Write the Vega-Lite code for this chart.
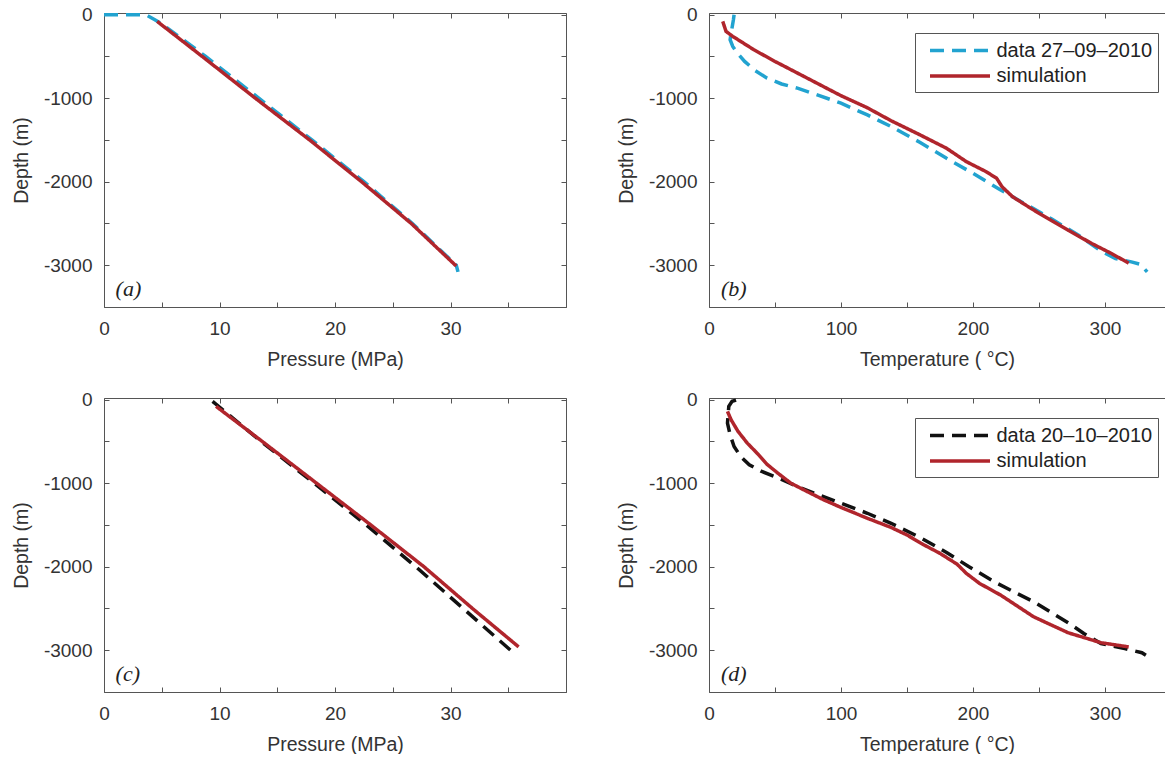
{
  "$schema": "https://vega.github.io/schema/vega-lite/v6.json",
  "background": "white",
  "padding": {"left": 11, "top": 5, "right": 0, "bottom": 0},
  "config": {
    "font": "Liberation Sans",
    "view": {"stroke": null},
    "axis": {
      "grid": false,
      "domainColor": "#555555",
      "tickColor": "#555555",
      "labelColor": "#333333",
      "titleColor": "#333333",
      "labelFontSize": 19,
      "titleFontSize": 19.5,
      "titleFontWeight": "normal",
      "tickSize": -5,
      "labelPadding": 17,
      "titlePadding": 12,
      "labelFlush": false,
      "domainWidth": 1,
      "tickWidth": 1
    },
    "legend": {
      "title": null,
      "strokeColor": "#555555",
      "fillColor": "white",
      "padding": 5.5,
      "symbolType": "M-3,0H3",
      "symbolSize": 400,
      "symbolStrokeWidth": 3.5,
      "symbolOffset": 27.5,
      "labelOffset": 24.5,
      "labelFontSize": 20,
      "labelColor": "#222222",
      "rowPadding": 3.5,
      "cornerRadius": 0
    }
  },
  "datasets": {
    "a": [
      {"series": "data 27–09–2010", "x": 0, "y": 0},
      {"series": "data 27–09–2010", "x": 3.6, "y": 0},
      {"series": "data 27–09–2010", "x": 4.4, "y": -60},
      {"series": "data 27–09–2010", "x": 5.0, "y": -110},
      {"series": "data 27–09–2010", "x": 8.8, "y": -500},
      {"series": "data 27–09–2010", "x": 13.4, "y": -1000},
      {"series": "data 27–09–2010", "x": 18.0, "y": -1500},
      {"series": "data 27–09–2010", "x": 22.5, "y": -2000},
      {"series": "data 27–09–2010", "x": 26.7, "y": -2500},
      {"series": "data 27–09–2010", "x": 30.5, "y": -3000},
      {"series": "data 27–09–2010", "x": 30.65, "y": -3080},
      {"series": "simulation", "x": 4.6, "y": -80},
      {"series": "simulation", "x": 8.5, "y": -500},
      {"series": "simulation", "x": 13.1, "y": -1000},
      {"series": "simulation", "x": 17.8, "y": -1500},
      {"series": "simulation", "x": 22.3, "y": -2000},
      {"series": "simulation", "x": 26.6, "y": -2500},
      {"series": "simulation", "x": 30.5, "y": -3010}
    ],
    "b": [
      {"series": "data 27–09–2010", "x": 19, "y": 0},
      {"series": "data 27–09–2010", "x": 18.5, "y": -60},
      {"series": "data 27–09–2010", "x": 17, "y": -200},
      {"series": "data 27–09–2010", "x": 16, "y": -300},
      {"series": "data 27–09–2010", "x": 18, "y": -380},
      {"series": "data 27–09–2010", "x": 21, "y": -450},
      {"series": "data 27–09–2010", "x": 27, "y": -560},
      {"series": "data 27–09–2010", "x": 35, "y": -670},
      {"series": "data 27–09–2010", "x": 44, "y": -760},
      {"series": "data 27–09–2010", "x": 55, "y": -830},
      {"series": "data 27–09–2010", "x": 67, "y": -880},
      {"series": "data 27–09–2010", "x": 82, "y": -960},
      {"series": "data 27–09–2010", "x": 100, "y": -1060},
      {"series": "data 27–09–2010", "x": 120, "y": -1200},
      {"series": "data 27–09–2010", "x": 138, "y": -1340},
      {"series": "data 27–09–2010", "x": 160, "y": -1530},
      {"series": "data 27–09–2010", "x": 180, "y": -1720},
      {"series": "data 27–09–2010", "x": 200, "y": -1900},
      {"series": "data 27–09–2010", "x": 220, "y": -2090},
      {"series": "data 27–09–2010", "x": 240, "y": -2270},
      {"series": "data 27–09–2010", "x": 260, "y": -2450},
      {"series": "data 27–09–2010", "x": 280, "y": -2640},
      {"series": "data 27–09–2010", "x": 297, "y": -2830},
      {"series": "data 27–09–2010", "x": 308, "y": -2920},
      {"series": "data 27–09–2010", "x": 320, "y": -2960},
      {"series": "data 27–09–2010", "x": 327, "y": -2990},
      {"series": "data 27–09–2010", "x": 332, "y": -3080},
      {"series": "simulation", "x": 10.4, "y": -80},
      {"series": "simulation", "x": 12.9, "y": -200},
      {"series": "simulation", "x": 18, "y": -260},
      {"series": "simulation", "x": 25, "y": -330},
      {"series": "simulation", "x": 34, "y": -420},
      {"series": "simulation", "x": 50, "y": -560},
      {"series": "simulation", "x": 72, "y": -740},
      {"series": "simulation", "x": 100, "y": -970},
      {"series": "simulation", "x": 120, "y": -1115},
      {"series": "simulation", "x": 138, "y": -1270},
      {"series": "simulation", "x": 160, "y": -1440},
      {"series": "simulation", "x": 180, "y": -1600},
      {"series": "simulation", "x": 195, "y": -1760},
      {"series": "simulation", "x": 210, "y": -1880},
      {"series": "simulation", "x": 218, "y": -1960},
      {"series": "simulation", "x": 222, "y": -2060},
      {"series": "simulation", "x": 230, "y": -2180},
      {"series": "simulation", "x": 245, "y": -2330},
      {"series": "simulation", "x": 260, "y": -2470},
      {"series": "simulation", "x": 272, "y": -2580},
      {"series": "simulation", "x": 290, "y": -2740},
      {"series": "simulation", "x": 305, "y": -2860},
      {"series": "simulation", "x": 318, "y": -2975}
    ],
    "c": [
      {"series": "data 20–10–2010", "x": 9.4, "y": -20},
      {"series": "data 20–10–2010", "x": 13.6, "y": -500},
      {"series": "data 20–10–2010", "x": 18.2, "y": -1000},
      {"series": "data 20–10–2010", "x": 22.7, "y": -1500},
      {"series": "data 20–10–2010", "x": 27.0, "y": -2000},
      {"series": "data 20–10–2010", "x": 31.1, "y": -2500},
      {"series": "data 20–10–2010", "x": 35.2, "y": -3000},
      {"series": "simulation", "x": 9.7, "y": -80},
      {"series": "simulation", "x": 13.7, "y": -500},
      {"series": "simulation", "x": 18.4, "y": -1000},
      {"series": "simulation", "x": 23.1, "y": -1500},
      {"series": "simulation", "x": 27.7, "y": -2000},
      {"series": "simulation", "x": 31.9, "y": -2500},
      {"series": "simulation", "x": 35.9, "y": -2960}
    ],
    "d": [
      {"series": "data 20–10–2010", "x": 20.5, "y": -5},
      {"series": "data 20–10–2010", "x": 17.5, "y": -20},
      {"series": "data 20–10–2010", "x": 15, "y": -80},
      {"series": "data 20–10–2010", "x": 14, "y": -280},
      {"series": "data 20–10–2010", "x": 16, "y": -420},
      {"series": "data 20–10–2010", "x": 19, "y": -560},
      {"series": "data 20–10–2010", "x": 24, "y": -680},
      {"series": "data 20–10–2010", "x": 30.5, "y": -780},
      {"series": "data 20–10–2010", "x": 40, "y": -860},
      {"series": "data 20–10–2010", "x": 49.5, "y": -920},
      {"series": "data 20–10–2010", "x": 60, "y": -990},
      {"series": "data 20–10–2010", "x": 70, "y": -1060},
      {"series": "data 20–10–2010", "x": 85, "y": -1150},
      {"series": "data 20–10–2010", "x": 100, "y": -1240},
      {"series": "data 20–10–2010", "x": 120, "y": -1360},
      {"series": "data 20–10–2010", "x": 138, "y": -1480},
      {"series": "data 20–10–2010", "x": 160, "y": -1650},
      {"series": "data 20–10–2010", "x": 180, "y": -1830},
      {"series": "data 20–10–2010", "x": 197, "y": -2000},
      {"series": "data 20–10–2010", "x": 216, "y": -2180},
      {"series": "data 20–10–2010", "x": 246, "y": -2420},
      {"series": "data 20–10–2010", "x": 275, "y": -2700},
      {"series": "data 20–10–2010", "x": 284, "y": -2800},
      {"series": "data 20–10–2010", "x": 297, "y": -2920},
      {"series": "data 20–10–2010", "x": 315, "y": -2980},
      {"series": "data 20–10–2010", "x": 328, "y": -3030},
      {"series": "data 20–10–2010", "x": 331, "y": -3060},
      {"series": "simulation", "x": 14, "y": -140},
      {"series": "simulation", "x": 16.7, "y": -240},
      {"series": "simulation", "x": 22, "y": -380},
      {"series": "simulation", "x": 29, "y": -520},
      {"series": "simulation", "x": 37, "y": -650},
      {"series": "simulation", "x": 44, "y": -775},
      {"series": "simulation", "x": 53, "y": -890},
      {"series": "simulation", "x": 62, "y": -1000},
      {"series": "simulation", "x": 75, "y": -1105},
      {"series": "simulation", "x": 87, "y": -1200},
      {"series": "simulation", "x": 100, "y": -1290},
      {"series": "simulation", "x": 120, "y": -1420},
      {"series": "simulation", "x": 138, "y": -1530},
      {"series": "simulation", "x": 150, "y": -1620},
      {"series": "simulation", "x": 163, "y": -1740},
      {"series": "simulation", "x": 175, "y": -1840},
      {"series": "simulation", "x": 188, "y": -1970},
      {"series": "simulation", "x": 195, "y": -2080},
      {"series": "simulation", "x": 205, "y": -2200},
      {"series": "simulation", "x": 221, "y": -2340},
      {"series": "simulation", "x": 246, "y": -2600},
      {"series": "simulation", "x": 272, "y": -2790},
      {"series": "simulation", "x": 297, "y": -2910},
      {"series": "simulation", "x": 318, "y": -2960}
    ]
  },
  "columns": 2,
  "bounds": "flush",
  "spacing": {"row": 91, "column": 143},
  "resolve": {"scale": {"x": "independent", "y": "independent", "color": "independent", "strokeDash": "independent"}},
  "concat": [
    {
      "width": 462, "height": 294,
      "resolve": {"axis": {"x": "independent", "y": "independent"}},
      "layer": [
        {
          "data": {"name": "a"},
          "mark": {"type": "line", "strokeWidth": 3.5},
          "encoding": {
            "x": {"field": "x", "type": "quantitative", "scale": {"domain": [0, 40], "nice": false, "zero": false},
                  "axis": {"orient": "bottom", "title": "Pressure (MPa)", "values": [0, 5, 10, 15, 20, 25, 30, 35, 40], "labelExpr": "datum.value % 10 === 0 && datum.value < 40 ? datum.label : ''"}},
            "y": {"field": "y", "type": "quantitative", "scale": {"domain": [-3500, 20], "nice": false, "zero": false},
                  "axis": {"orient": "left", "title": "Depth (m)", "values": [-3500, -3000, -2500, -2000, -1500, -1000, -500, 0], "labelExpr": "datum.value % 1000 === 0 ? '' + datum.value : ''"}},
            "color": {"field": "series", "type": "nominal", "scale": {"domain": ["data 27–09–2010", "simulation"], "range": ["#22a3d0", "#b0252c"]}, "legend": null},
            "strokeDash": {"field": "series", "type": "nominal", "scale": {"domain": ["data 27–09–2010", "simulation"], "range": [[14, 8], [1, 0]]}, "legend": null},
            "order": {"value": null}
          }
        },
        {
          "data": {"name": "a"},
          "mark": {"type": "line", "opacity": 0},
          "encoding": {
            "x": {"field": "x", "type": "quantitative", "axis": {"orient": "top", "labels": false, "title": null, "values": [0, 5, 10, 15, 20, 25, 30, 35, 40]}},
            "y": {"field": "y", "type": "quantitative", "axis": {"orient": "right", "labels": false, "title": null, "values": [-3500, -3000, -2500, -2000, -1500, -1000, -500, 0]}},
            "order": {"value": null}
          }
        },
        {
          "data": {"values": [{"x": 1, "y": -3290, "txt": "(a)"}]},
          "mark": {"type": "text", "align": "left", "baseline": "middle", "font": "Liberation Serif", "fontStyle": "italic", "fontSize": 22, "color": "#222222"},
          "encoding": {
            "x": {"field": "x", "type": "quantitative", "axis": null},
            "y": {"field": "y", "type": "quantitative", "axis": null},
            "text": {"field": "txt"}
          }
        }
      ]
    },
    {
      "width": 456, "height": 294,
      "resolve": {"axis": {"x": "independent", "y": "independent"}},
      "layer": [
        {
          "data": {"name": "b"},
          "mark": {"type": "line", "strokeWidth": 3.5},
          "encoding": {
            "x": {"field": "x", "type": "quantitative", "scale": {"domain": [0, 345.5], "nice": false, "zero": false},
                  "axis": {"orient": "bottom", "title": "Temperature ( °C)", "values": [0, 50, 100, 150, 200, 250, 300], "labelExpr": "datum.value % 100 === 0 ? datum.label : ''"}},
            "y": {"field": "y", "type": "quantitative", "scale": {"domain": [-3500, 20], "nice": false, "zero": false},
                  "axis": {"orient": "left", "title": "Depth (m)", "values": [-3500, -3000, -2500, -2000, -1500, -1000, -500, 0], "labelExpr": "datum.value % 1000 === 0 ? '' + datum.value : ''"}},
            "color": {"field": "series", "type": "nominal", "scale": {"domain": ["data 27–09–2010", "simulation"], "range": ["#22a3d0", "#b0252c"]}, "legend": {"orient": "none", "legendX": 206, "legendY": 20}},
            "strokeDash": {"field": "series", "type": "nominal", "scale": {"domain": ["data 27–09–2010", "simulation"], "range": [[14, 8], [1, 0]]}, "legend": {"orient": "none", "legendX": 206, "legendY": 20}},
            "order": {"value": null}
          }
        },
        {
          "data": {"name": "b"},
          "mark": {"type": "line", "opacity": 0},
          "encoding": {
            "x": {"field": "x", "type": "quantitative", "axis": {"orient": "top", "labels": false, "title": null, "values": [0, 50, 100, 150, 200, 250, 300]}},
            "y": {"field": "y", "type": "quantitative", "axis": null},
            "order": {"value": null}
          }
        },
        {
          "data": {"values": [{"x": 9, "y": -3290, "txt": "(b)"}]},
          "mark": {"type": "text", "align": "left", "baseline": "middle", "font": "Liberation Serif", "fontStyle": "italic", "fontSize": 22, "color": "#222222"},
          "encoding": {
            "x": {"field": "x", "type": "quantitative", "axis": null},
            "y": {"field": "y", "type": "quantitative", "axis": null},
            "text": {"field": "txt"}
          }
        }
      ]
    },
    {
      "width": 462, "height": 294,
      "resolve": {"axis": {"x": "independent", "y": "independent"}},
      "layer": [
        {
          "data": {"name": "c"},
          "mark": {"type": "line", "strokeWidth": 3.5},
          "encoding": {
            "x": {"field": "x", "type": "quantitative", "scale": {"domain": [0, 40], "nice": false, "zero": false},
                  "axis": {"orient": "bottom", "title": "Pressure (MPa)", "values": [0, 5, 10, 15, 20, 25, 30, 35, 40], "labelExpr": "datum.value % 10 === 0 && datum.value < 40 ? datum.label : ''"}},
            "y": {"field": "y", "type": "quantitative", "scale": {"domain": [-3500, 20], "nice": false, "zero": false},
                  "axis": {"orient": "left", "title": "Depth (m)", "values": [-3500, -3000, -2500, -2000, -1500, -1000, -500, 0], "labelExpr": "datum.value % 1000 === 0 ? '' + datum.value : ''"}},
            "color": {"field": "series", "type": "nominal", "scale": {"domain": ["data 20–10–2010", "simulation"], "range": ["#111111", "#b0252c"]}, "legend": null},
            "strokeDash": {"field": "series", "type": "nominal", "scale": {"domain": ["data 20–10–2010", "simulation"], "range": [[14, 8], [1, 0]]}, "legend": null},
            "order": {"value": null}
          }
        },
        {
          "data": {"name": "c"},
          "mark": {"type": "line", "opacity": 0},
          "encoding": {
            "x": {"field": "x", "type": "quantitative", "axis": {"orient": "top", "labels": false, "title": null, "values": [0, 5, 10, 15, 20, 25, 30, 35, 40]}},
            "y": {"field": "y", "type": "quantitative", "axis": {"orient": "right", "labels": false, "title": null, "values": [-3500, -3000, -2500, -2000, -1500, -1000, -500, 0]}},
            "order": {"value": null}
          }
        },
        {
          "data": {"values": [{"x": 1, "y": -3290, "txt": "(c)"}]},
          "mark": {"type": "text", "align": "left", "baseline": "middle", "font": "Liberation Serif", "fontStyle": "italic", "fontSize": 22, "color": "#222222"},
          "encoding": {
            "x": {"field": "x", "type": "quantitative", "axis": null},
            "y": {"field": "y", "type": "quantitative", "axis": null},
            "text": {"field": "txt"}
          }
        }
      ]
    },
    {
      "width": 456, "height": 294,
      "resolve": {"axis": {"x": "independent", "y": "independent"}},
      "layer": [
        {
          "data": {"name": "d"},
          "mark": {"type": "line", "strokeWidth": 3.5},
          "encoding": {
            "x": {"field": "x", "type": "quantitative", "scale": {"domain": [0, 345.5], "nice": false, "zero": false},
                  "axis": {"orient": "bottom", "title": "Temperature ( °C)", "values": [0, 50, 100, 150, 200, 250, 300], "labelExpr": "datum.value % 100 === 0 ? datum.label : ''"}},
            "y": {"field": "y", "type": "quantitative", "scale": {"domain": [-3500, 20], "nice": false, "zero": false},
                  "axis": {"orient": "left", "title": "Depth (m)", "values": [-3500, -3000, -2500, -2000, -1500, -1000, -500, 0], "labelExpr": "datum.value % 1000 === 0 ? '' + datum.value : ''"}},
            "color": {"field": "series", "type": "nominal", "scale": {"domain": ["data 20–10–2010", "simulation"], "range": ["#111111", "#b0252c"]}, "legend": {"orient": "none", "legendX": 206, "legendY": 20}},
            "strokeDash": {"field": "series", "type": "nominal", "scale": {"domain": ["data 20–10–2010", "simulation"], "range": [[14, 8], [1, 0]]}, "legend": {"orient": "none", "legendX": 206, "legendY": 20}},
            "order": {"value": null}
          }
        },
        {
          "data": {"name": "d"},
          "mark": {"type": "line", "opacity": 0},
          "encoding": {
            "x": {"field": "x", "type": "quantitative", "axis": {"orient": "top", "labels": false, "title": null, "values": [0, 50, 100, 150, 200, 250, 300]}},
            "y": {"field": "y", "type": "quantitative", "axis": null},
            "order": {"value": null}
          }
        },
        {
          "data": {"values": [{"x": 9, "y": -3290, "txt": "(d)"}]},
          "mark": {"type": "text", "align": "left", "baseline": "middle", "font": "Liberation Serif", "fontStyle": "italic", "fontSize": 22, "color": "#222222"},
          "encoding": {
            "x": {"field": "x", "type": "quantitative", "axis": null},
            "y": {"field": "y", "type": "quantitative", "axis": null},
            "text": {"field": "txt"}
          }
        }
      ]
    }
  ]
}
